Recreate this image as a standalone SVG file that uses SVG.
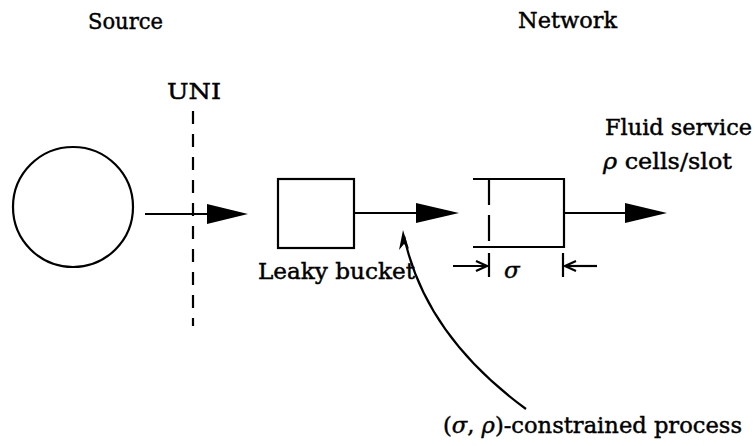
<svg xmlns="http://www.w3.org/2000/svg" width="755" height="446" viewBox="0 0 755 446">
<style>
.t{font-family:"DejaVu Serif","Liberation Serif",serif;font-size:23px;fill:#000;stroke:#000;stroke-width:0.45}
.i{font-style:italic}
.s{stroke:#000;stroke-width:2.2;fill:none}
.d{stroke:#000;stroke-width:2.2;fill:none}
.h{fill:#000;stroke:none}
</style>
<rect width="755" height="446" fill="#fff"/>
<g id="labels">
<text class="t" x="88" y="29" textLength="75" lengthAdjust="spacingAndGlyphs">Source</text>
<text class="t" x="518" y="28" textLength="99" lengthAdjust="spacingAndGlyphs">Network</text>
<text class="t" x="167" y="99" textLength="54" lengthAdjust="spacingAndGlyphs">UNI</text>
<text class="t" x="605" y="135" textLength="147" lengthAdjust="spacingAndGlyphs">Fluid service</text>
<text class="t" x="603" y="169" textLength="129" lengthAdjust="spacingAndGlyphs"><tspan class="i">ρ</tspan> cells/slot</text>
<text class="t" x="443" y="433" textLength="299" lengthAdjust="spacingAndGlyphs">(<tspan class="i">σ</tspan>, <tspan class="i">ρ</tspan>)-constrained process</text>
</g>
<g id="source">
<circle class="s" cx="73" cy="207" r="60"/>
</g>
<g id="uni">
<line class="d" x1="193" y1="111" x2="193" y2="326" stroke-dasharray="13 10"/>
</g>
<g id="leaky-bucket">
<rect class="s" x="278" y="179" width="76" height="69"/>
<text class="t" x="258" y="279" textLength="157" lengthAdjust="spacingAndGlyphs">Leaky bucket</text>
</g>
<g id="network-queue">
<polyline class="s" points="473,179 564,179 564,247 473,247"/>
<line class="d" x1="489" y1="179" x2="489" y2="247" stroke-dasharray="26 10"/>
<line class="s" x1="489" y1="253" x2="489" y2="277"/>
<line class="s" x1="563" y1="253" x2="563" y2="277"/>
<text class="t i" x="504" y="278">σ</text>
</g>
<g id="connectors">
<line class="s" x1="145" y1="214" x2="210" y2="214"/>
<polygon class="h" points="207,204 248,214 207,224"/>
<line class="s" x1="354" y1="213" x2="418" y2="213"/>
<polygon class="h" points="416,203 459,213 416,223"/>
<line class="s" x1="564" y1="213" x2="627" y2="213"/>
<polygon class="h" points="625,203 667,213 625,223"/>
<line class="s" x1="453" y1="266" x2="486" y2="266"/>
<polyline class="s" points="476,261 487,266 476,271"/>
<line class="s" x1="597" y1="266" x2="566" y2="266"/>
<polyline class="s" points="576,261 565,266 576,271"/>
<path class="s" d="M526,409 Q425,335 404,236"/>
<polygon class="h" points="403,230 409,249 404,244 399,250"/>
</g>
</svg>
